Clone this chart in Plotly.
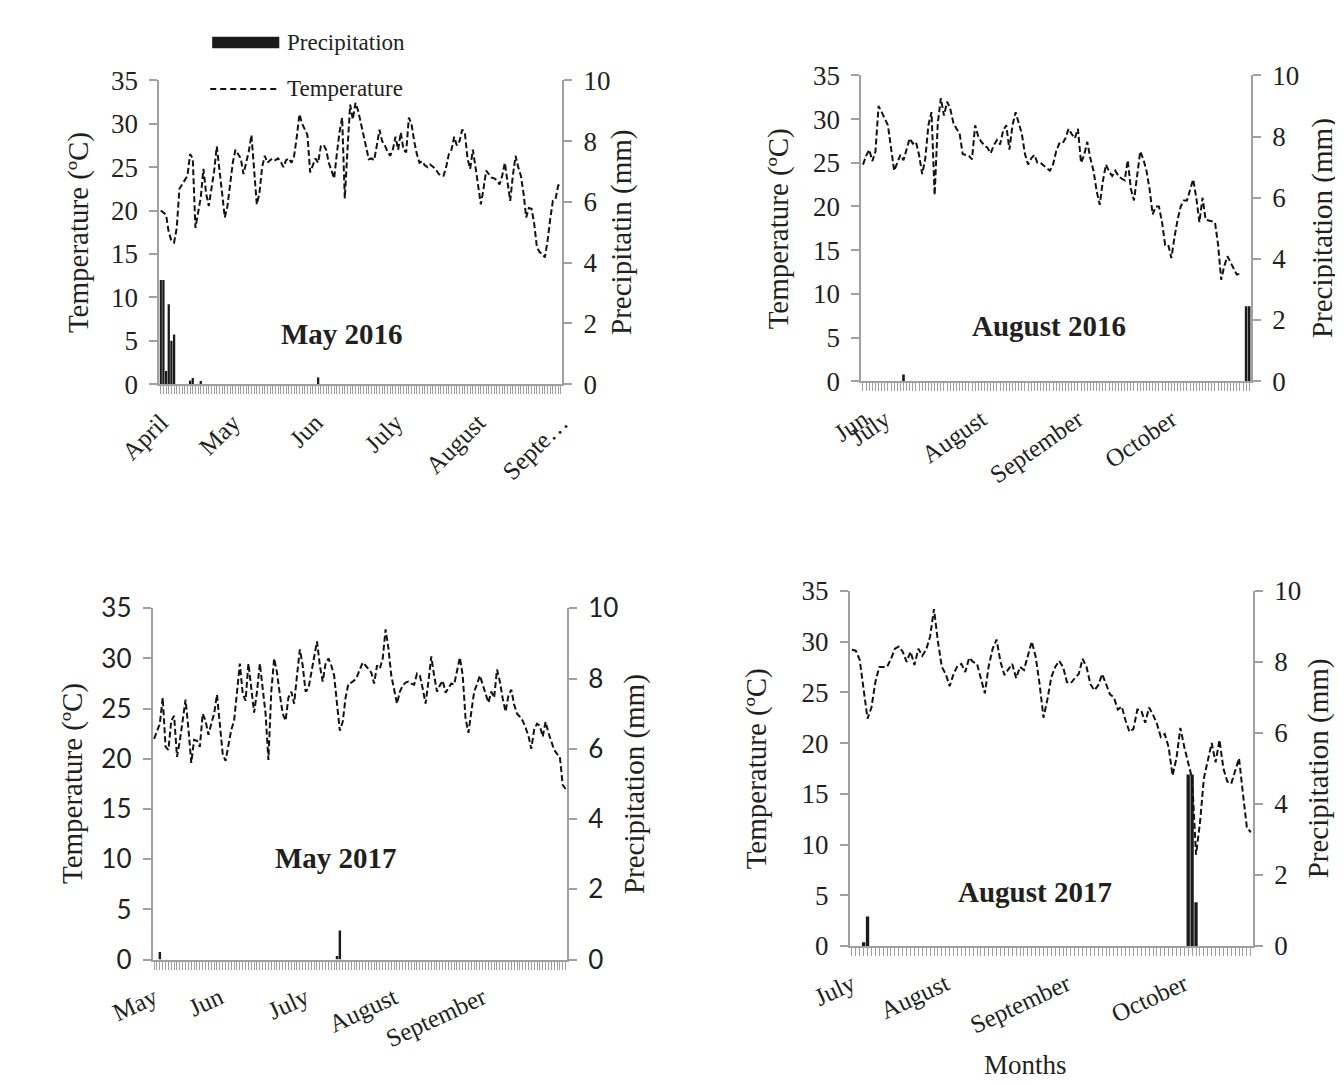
import plotly.graph_objects as go

W, H = 1343, 1086

# ---------------- DATA ----------------
# Panel 1: May 2016 sowing (daily, April -> September)
temp_p1 = [20.0, 19.8, 19.5, 17.5, 16.5, 16.3, 18.0, 22.5, 23.0, 23.5,
           24.0, 26.5, 26.0, 18.0, 20.0, 21.5, 24.8, 22.0, 20.5, 22.5,
           24.5, 27.4, 25.0, 22.0, 19.2, 20.5, 23.0, 25.5, 27.0, 26.5,
           26.0, 24.2, 25.5, 26.8, 28.7, 24.5, 20.7, 22.0, 25.0, 26.3,
           25.5, 25.8, 26.0, 25.8, 26.0, 25.6, 25.0, 25.8, 26.0, 25.5,
           26.3, 28.5, 31.1, 30.0, 29.3, 28.7, 24.4, 25.2, 26.0, 25.5,
           27.4, 27.6, 27.0, 25.5, 24.5, 23.7, 26.5, 29.0, 30.7, 21.4,
           27.0, 32.2, 30.5, 32.4, 31.5, 30.0, 28.5, 27.0, 25.9, 26.0,
           25.8, 27.5, 29.3, 28.0, 27.5, 26.8, 26.3, 27.0, 28.5, 27.0,
           29.0, 27.0, 26.7, 30.7, 30.0, 28.0, 26.5, 25.5, 25.7, 25.2,
           25.0, 25.3, 25.0, 24.8, 24.3, 24.0, 24.0, 25.0, 26.5, 27.0,
           28.5, 27.5, 28.0, 29.3, 29.0, 26.0, 24.8, 27.0, 25.0, 22.5,
           20.7, 22.5, 24.6, 24.2, 23.8, 23.7, 23.5, 23.0, 24.0, 25.5,
           23.0, 21.1, 24.0, 26.3, 25.0, 24.0, 22.0, 19.2, 20.3, 20.2,
           18.5, 15.8, 15.2, 15.0, 14.6, 16.5, 19.0, 21.1, 21.3, 22.9,
           23.0]
precip_p1_days = [0, 1, 2, 3, 4, 5, 11, 12, 15, 59]
precip_p1_vals = [3.43, 3.43, 0.43, 2.63, 1.43, 1.63, 0.12, 0.2, 0.1, 0.22]
months_p1 = ["April", "May", "Jun", "July", "August", "Septe\u2026"]
month_pos_p1 = [0, 27, 58, 88, 119, 150]

# Panel 2: August 2016 sowing (daily, late June -> October)
temp_p2 = [24.8, 25.8, 26.5, 25.2, 26.3, 31.5, 30.8, 30.0, 29.3, 26.7,
           24.1, 25.0, 25.9, 25.3, 26.5, 27.8, 27.2, 27.4, 25.9, 23.7,
           25.5, 29.3, 30.8, 21.3, 29.5, 32.4, 30.4, 32.0, 31.2, 29.6,
           28.9, 28.4, 26.0, 25.9, 25.8, 25.4, 29.3, 28.0, 27.4, 27.0,
           26.7, 26.1, 27.0, 27.6, 27.1, 28.7, 29.3, 26.5, 29.3, 30.8,
           29.5, 28.3, 26.0, 24.8, 25.5, 25.9, 25.0, 25.0, 24.7, 24.4,
           24.1, 24.8, 26.3, 27.2, 27.2, 27.8, 28.9, 28.3, 27.8, 28.9,
           25.0, 25.9, 27.4, 25.5, 24.1, 21.8, 20.2, 22.9, 24.8, 24.0,
           23.5, 24.1, 23.5, 23.2, 23.0, 25.3, 22.0, 20.7, 23.3, 26.3,
           25.4, 24.1, 22.0, 19.1, 20.0, 20.0, 18.2, 15.6, 15.6, 14.1,
           16.5, 18.5, 20.0, 20.7, 20.7, 22.0, 23.1, 21.0, 18.2, 21.0,
           18.5, 18.4, 18.3, 18.2, 15.6, 11.6, 13.2, 14.3, 13.6, 12.9,
           12.2, 12.3, None, None, None]
precip_p2_days = [13, 123, 124]
precip_p2_vals = [0.22, 2.45, 2.45]
months_p2 = ["Jun", "July", "August", "September", "October"]
month_pos_p2 = [0, 7, 38, 69, 99]

# Panel 3: May 2017 sowing (daily, May -> September)
temp_p3 = [22.0, 22.8, 23.5, 26.1, 21.2, 20.9, 23.8, 24.3, 20.2, 21.8,
           24.0, 25.9, 23.0, 19.6, 21.9, 21.8, 21.2, 24.5, 23.8, 22.4,
           23.5, 24.5, 26.4, 23.0, 20.5, 19.8, 21.5, 22.9, 23.8, 27.0,
           29.5, 26.5, 25.8, 29.5, 26.7, 24.6, 26.7, 29.5, 27.0, 24.5,
           19.9, 26.7, 30.0, 28.6, 26.4, 24.5, 23.8, 26.1, 26.7, 25.5,
           28.3, 30.9, 29.3, 26.7, 27.0, 28.5, 30.0, 31.7, 29.3, 27.7,
           29.5, 30.0, 29.3, 28.3, 25.5, 22.8, 23.7, 26.1, 27.5, 27.6,
           27.8, 28.2, 28.9, 29.6, 29.3, 29.0, 28.6, 27.5, 29.3, 29.0,
           30.0, 32.9, 31.0, 28.3, 27.0, 25.5, 26.7, 27.3, 27.6, 27.7,
           27.5, 27.4, 28.5, 28.3, 27.0, 25.5, 27.7, 30.2, 28.3, 26.7,
           27.3, 27.8, 26.6, 27.1, 27.5, 27.4, 28.9, 30.1, 28.3, 24.0,
           22.6, 24.5, 26.7, 27.4, 28.3, 27.4, 26.5, 25.6, 26.7, 26.1,
           28.9, 27.7, 26.0, 24.7, 26.3, 26.9, 25.4, 24.5, 24.2, 23.8,
           23.1, 22.3, 21.0, 22.9, 23.5, 23.3, 22.2, 23.7, 22.6, 21.8,
           20.9, 20.5, 20.2, 17.4, 17.0]
precip_p3_days = [2, 64, 65]
precip_p3_vals = [0.22, 0.1, 0.83]
months_p3 = ["May", "Jun", "July", "August", "September"]
month_pos_p3 = [0, 23, 53, 84, 115]

# Panel 4: August 2017 sowing (daily, July -> October)
temp_p4 = [29.2, 29.1, 28.2, 25.0, 22.4, 23.5, 26.0, 27.5, 27.5, 27.5,
           28.3, 29.3, 29.5, 29.0, 28.0, 29.0, 27.7, 29.3, 28.6, 29.2,
           30.5, 33.2, 30.0, 27.5, 26.8, 25.6, 26.8, 27.6, 27.8, 27.0,
           28.4, 28.0, 27.8, 26.3, 24.9, 27.6, 29.3, 30.2, 28.0, 26.7,
           27.2, 27.8, 26.4, 27.5, 27.2, 28.5, 30.0, 28.5, 25.8, 22.5,
           24.3, 26.5, 27.5, 28.1, 27.5, 26.0, 25.9, 26.4, 26.8, 28.3,
           27.5, 25.8, 25.2, 25.7, 26.8, 25.8, 24.8, 24.5, 23.3, 23.6,
           22.2, 21.1, 21.4, 23.3, 23.2, 22.0, 23.5, 22.8, 21.9, 20.6,
           20.9, 19.6, 16.8, 18.5, 21.5, 19.6, 18.0, 16.5, 9.0, 12.1,
           16.5, 18.1, 20.0, 18.1, 20.3, 17.5, 16.2, 16.0, 17.2, 18.5,
           15.0, 11.7, 11.2]
precip_p4_days = [3, 4, 86, 87, 88]
precip_p4_vals = [0.11, 0.83, 4.83, 4.83, 1.23]
months_p4 = ["July", "August", "September", "October"]
month_pos_p4 = [0, 24, 55, 85]

temp_ticks = [0, 5, 10, 15, 20, 25, 30, 35]
precip_ticks = [0, 2, 4, 6, 8, 10]

# ---------------- LAYOUT ----------------
SERIF = "Liberation Serif"
TXT = "#231f20"
AX = "#a0a0a0"

panels = [
    dict(title="May 2016", temp=temp_p1, pd=precip_p1_days, pv=precip_p1_vals,
         months=months_p1, mpos=month_pos_p1, angle=-45,
         rtitle="Precipitatin (mm)", box=(112, 532, 57, 370),
         numfont=SERIF, numsize=27, lab=(302, 318), ltx=27, rtx=593),
    dict(title="August 2016", temp=temp_p2, pd=precip_p2_days, pv=precip_p2_vals,
         months=months_p2, mpos=month_pos_p2, angle=-35,
         rtitle="Precipitation (mm)", box=(844, 1250, 52, 367),
         numfont=SERIF, numsize=27, lab=(1040, 310), ltx=757, rtx=1325),
    dict(title="May 2017", temp=temp_p3, pd=precip_p3_days, pv=precip_p3_vals,
         months=months_p3, mpos=month_pos_p3, angle=-25,
         rtitle="Precipitation (mm)", box=(105, 537, 601, 963),
         numfont="Lato", numsize=26, lab=(296, 858), ltx=22, rtx=608),
    dict(title="August 2017", temp=temp_p4, pd=precip_p4_days, pv=precip_p4_vals,
         months=months_p4, mpos=month_pos_p4, angle=-25,
         rtitle="Precipitation (mm)", box=(832, 1252, 583, 949),
         numfont=SERIF, numsize=27, lab=(1025, 893), ltx=735, rtx=1320),
]

fig = go.Figure()
layout = {}
annotations = []

for k, p in enumerate(panels):
    n = len(p["temp"])
    xa = "x" if k == 0 else f"x{k+1}"
    ya_p = f"y{2*k+1}" if k > 0 else "y"      # precipitation (base, right)
    ya_t = f"y{2*k+2}"                          # temperature (overlay, left)
    xkey = "xaxis" if k == 0 else f"xaxis{k+1}"
    ypkey = "yaxis" if k == 0 else f"yaxis{2*k+1}"
    ytkey = f"yaxis{2*k+2}"
    x0, x1, y0, y1 = p["box"]
    dx = [x0 / W, x1 / W]
    dy = [1 - y1 / H, 1 - y0 / H]
    ticktext = [""] * n
    for name, pos in zip(p["months"], p["mpos"]):
        ticktext[pos] = name

    fig.add_trace(go.Bar(x=p["pd"], y=p["pv"], xaxis=xa, yaxis=ya_p,
                         marker=dict(color="#1a1a1a", line=dict(width=0)),
                         width=0.85, name="Precipitation", showlegend=False))
    fig.add_trace(go.Scatter(x=list(range(n)), y=p["temp"], xaxis=xa, yaxis=ya_t,
                             mode="lines", line=dict(color="#111111", width=2, dash="6px,3px"),
                             name="Temperature", showlegend=False, connectgaps=False))

    layout[xkey] = dict(domain=dx, anchor=ya_p, range=[-0.5, n - 0.5],
                        tickmode="array", tickvals=list(range(n)), ticktext=ticktext,
                        tickangle=p["angle"], ticks="outside", ticklen=8, tickcolor=AX,
                        tickwidth=1, showline=True, linecolor=AX, linewidth=2,
                        showgrid=False, zeroline=False, ticklabelstandoff=4,
                        tickfont=dict(family=SERIF, size=25, color=TXT))
    layout[ypkey] = dict(domain=dy, anchor=xa, side="right", range=[0, 10],
                         tickmode="array", tickvals=precip_ticks,
                         ticks="outside", ticklen=8, tickcolor=AX, tickwidth=2,
                         showline=True, linecolor=AX, linewidth=2,
                         showgrid=False, zeroline=False, ticklabelstandoff=6,
                         tickfont=dict(family=p["numfont"], size=p["numsize"], color=TXT))
    layout[ytkey] = dict(domain=dy, anchor=xa, overlaying=ya_p, side="left", range=[0, 35],
                         tickmode="array", tickvals=temp_ticks,
                         ticks="outside", ticklen=8, tickcolor=AX, tickwidth=2,
                         showline=True, linecolor=AX, linewidth=2,
                         showgrid=False, zeroline=False, ticklabelstandoff=6,
                         tickfont=dict(family=p["numfont"], size=p["numsize"], color=TXT))

    ymid = 1 - ((y0 + y1) / 2) / H
    annotations.append(dict(x=p["ltx"] / W, y=ymid, xref="paper", yref="paper",
                            text="Temperature (ºC)", textangle=-90, showarrow=False,
                            font=dict(family=SERIF, size=29, color=TXT),
                            xanchor="center", yanchor="middle"))
    annotations.append(dict(x=p["rtx"] / W, y=ymid, xref="paper", yref="paper",
                            text=p["rtitle"], textangle=-90, showarrow=False,
                            font=dict(family=SERIF, size=29, color=TXT),
                            xanchor="center", yanchor="middle"))
    annotations.append(dict(x=p["lab"][0] / W, y=1 - p["lab"][1] / H, xref="paper", yref="paper",
                            text=f"<b>{p['title']}</b>", showarrow=False,
                            font=dict(family=SERIF, size=29, color=TXT),
                            xanchor="center", yanchor="middle"))

annotations.append(dict(x=1015 / W, y=1 - 1072 / H, xref="paper", yref="paper",
                        text="Months", showarrow=False,
                        font=dict(family=SERIF, size=27, color=TXT),
                        xanchor="center", yanchor="middle"))
# legend text
annotations.append(dict(x=243 / W, y=1 - 18 / H, xref="paper", yref="paper",
                        text="Precipitation", showarrow=False,
                        font=dict(family=SERIF, size=23, color=TXT),
                        xanchor="left", yanchor="middle"))
annotations.append(dict(x=243 / W, y=1 - 65 / H, xref="paper", yref="paper",
                        text="Temperature", showarrow=False,
                        font=dict(family=SERIF, size=23, color=TXT),
                        xanchor="left", yanchor="middle"))

shapes = [
    dict(type="rect", xref="paper", yref="paper", x0=167 / W, x1=237 / W,
         y0=1 - 24 / H, y1=1 - 12 / H, fillcolor="#1a1a1a", line=dict(width=0)),
    dict(type="line", xref="paper", yref="paper", x0=165 / W, x1=235 / W,
         y0=1 - 66 / H, y1=1 - 66 / H, line=dict(color="#111111", width=2, dash="6px,4px")),
]

fig.update_layout(**layout)
fig.update_layout(width=W, height=H, margin=dict(l=0, r=0, t=0, b=0),
                  paper_bgcolor="white", plot_bgcolor="white",
                  annotations=annotations, shapes=shapes, bargap=0.1,
                  showlegend=False)

fig.write_html("out.html")
